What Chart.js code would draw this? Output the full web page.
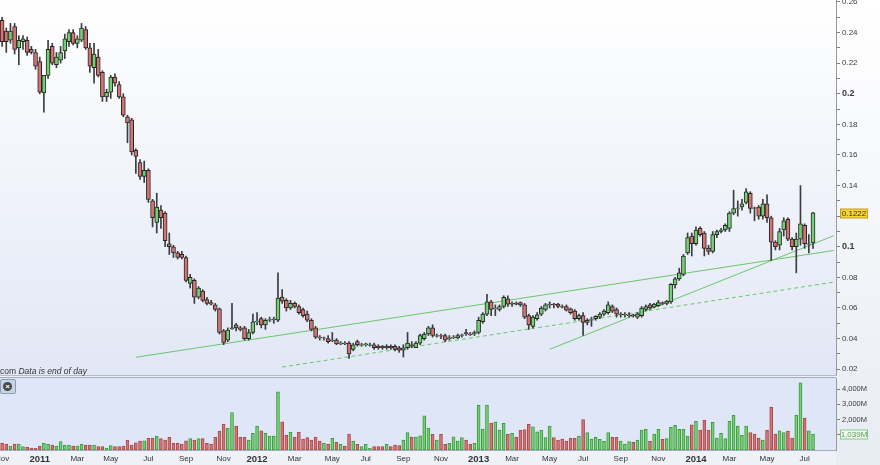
<!DOCTYPE html>
<html>
<head>
<meta charset="utf-8">
<script src="https://cdn.jsdelivr.net/npm/chart.js@4.4.1/dist/chart.umd.min.js"></script>
<style>
  html, body { margin: 0; padding: 0; }
  body { width: 880px; height: 465px; position: relative; overflow: hidden; background: #eef1f7;
         font-family: "Liberation Sans", Arial, sans-serif; }
  #priceBg { position: absolute; left: 0; top: 0; width: 836px; height: 375px; background: linear-gradient(#ffffff, #e1e7f5); }
  #axisBg { position: absolute; left: 836px; top: 0; width: 44px; height: 465px; background: linear-gradient(#ffffff, #e8ecf3); }
  #sep { position: absolute; left: 0; top: 375px; width: 837px; height: 1px; background: #b4bccb; }
  #volBg { position: absolute; left: 0; top: 377px; width: 836px; height: 72px; background: #dee6f7;
           border-top: 1px solid #a3acba; border-bottom: 1px solid #a3acba; }
  canvas { position: absolute; left: 0; }
  #price { top: 0; }
  #volume { top: 376px; }
  #note { position: absolute; left: 0; top: 366px; font-size: 8.5px; color: #333; white-space: nowrap; }
  #close { position: absolute; left: 0; top: 379px; width: 14px; height: 13px; background: #c7d4e7;
           border: 1px solid #8d9bb0; border-radius: 2px; }
  #close span { position: absolute; left: 2px; top: 2px; width: 9px; height: 9px; border-radius: 50%;
                background: #474747; color: #fff; font-size: 8px; line-height: 9px; text-align: center; font-weight: bold; }
</style>
</head>
<body>
<div id="priceBg"></div>
<div id="axisBg"></div>
<div id="sep"></div>
<div id="volBg"></div>
<canvas id="price" width="880" height="375"></canvas>
<canvas id="volume" width="880" height="89"></canvas>
<div id="note">com <i>Data is end of day</i></div>
<div id="close"><span>×</span></div>
<script>
// weekly candles, first week starts Mon 1 Nov 2010 (5 empty weeks kept on the right)
const firstWeek = Date.UTC(2010, 10, 1);
const weekCount = 200;
const weeks = [];
for (let i = 0; i < weekCount; i++) {
  weeks.push(new Date(firstWeek + i * 7 * 864e5).toISOString().slice(0, 10));
}
const monthNames = ['Jan', 'Feb', 'Mar', 'Apr', 'May', 'Jun', 'Jul', 'Aug', 'Sep', 'Oct', 'Nov', 'Dec'];

const open = [
  .248,.241,.235,.244,.230,.234,.235,.229,.227,.221,
  .2005,.212,.231,.219,.222,.228,.234,.240,.233,.235,
  .242,.230,.217,.224,.214,.198,.201,.211,.206,.198,
  .185,.183,.163,.155,.146,.150,.130,.116,.124,.122,
  .102,.100,.096,.095,.093,.076,.078,.067,.071,.0655,
  .0635,.062,.0595,.045,.039,.0465,.049,.047,.047,.040,
  .044,.051,.053,.049,.052,.0522,.052,.0672,.065,.060,
  .063,.061,.059,.056,.052,.047,.041,.0402,.040,.0385,
  .039,.0365,.037,.037,.033,.038,.0355,.036,.0355,.036,
  .035,.035,.034,.035,.035,.034,.0325,.034,.036,.034,
  .037,.040,.043,.047,.0415,.042,.042,.040,.0405,.0405,
  .042,.044,.043,.043,.044,.051,.056,.064,.0595,.059,
  .061,.066,.0625,.063,.0635,.062,.055,.048,.053,.056,
  .059,.062,.0625,.0625,.061,.061,.0595,.058,.053,.055,
  .0505,.052,.053,.054,.056,.057,.061,.059,.0555,.0555,
  .055,.0555,.054,.055,.059,.062,.0605,.0615,.0635,.063,
  .064,.075,.079,.082,.096,.107,.102,.112,.109,.099,
  .097,.108,.110,.111,.112,.122,.125,.126,.129,.135,
  .1255,.126,.120,.128,.119,.103,.101,.111,.118,.105,
  .100,.105,.114,.1015,.1025
];
const high = [
  .250,.243,.246,.246,.238,.238,.237,.231,.229,.224,
  .212,.235,.233,.227,.231,.239,.242,.242,.238,.246,
  .244,.233,.233,.229,.215,.203,.212,.213,.208,.200,
  .186,.184,.164,.157,.156,.151,.131,.135,.127,.123,
  .109,.101,.097,.097,.094,.082,.079,.074,.072,.067,
  .065,.063,.060,.046,.047,.063,.050,.048,.048,.046,
  .056,.057,.054,.053,.054,.054,.083,.072,.066,.065,
  .064,.062,.060,.058,.053,.048,.042,.041,.042,.044,
  .040,.038,.038,.038,.037,.039,.037,.037,.037,.037,
  .036,.0355,.036,.036,.036,.035,.036,.044,.038,.038,
  .043,.044,.048,.049,.043,.043,.043,.042,.042,.043,
  .043,.046,.044,.045,.054,.057,.069,.065,.062,.062,
  .068,.068,.064,.064,.064,.063,.056,.055,.057,.061,
  .063,.064,.063,.063,.062,.062,.060,.059,.056,.057,
  .053,.054,.055,.057,.059,.064,.062,.060,.057,.057,
  .057,.056,.057,.061,.062,.063,.063,.065,.064,.065,
  .076,.080,.086,.095,.109,.109,.113,.113,.110,.101,
  .110,.111,.112,.115,.123,.137,.130,.131,.138,.136,
  .126,.127,.131,.134,.120,.104,.112,.119,.119,.106,
  .109,.140,.115,.108,.1225
];
const low = [
  .231,.227,.233,.226,.219,.229,.225,.226,.216,.200,
  .188,.210,.219,.217,.220,.223,.231,.232,.230,.234,
  .229,.214,.207,.211,.195,.195,.197,.205,.197,.185,
  .168,.160,.148,.144,.142,.129,.113,.109,.112,.100,
  .095,.093,.092,.092,.077,.073,.063,.066,.064,.062,
  .062,.058,.043,.036,.038,.046,.045,.045,.039,.039,
  .043,.049,.047,.046,.051,.050,.051,.063,.058,.059,
  .060,.056,.054,.051,.045,.040,.039,.039,.037,.038,
  .036,.036,.036,.027,.032,.035,.035,.035,.035,.033,
  .033,.033,.033,.033,.032,.031,.028,.033,.034,.034,
  .036,.039,.042,.041,.041,.040,.038,.039,.040,.040,
  .041,.042,.042,.042,.043,.050,.055,.055,.055,.058,
  .060,.061,.061,.062,.061,.053,.046,.047,.052,.055,
  .058,.060,.060,.060,.060,.058,.056,.052,.052,.042,
  .049,.048,.052,.053,.055,.056,.057,.054,.054,.054,
  .054,.054,.053,.054,.058,.059,.060,.061,.062,.062,
  .063,.073,.078,.081,.095,.094,.101,.107,.094,.095,
  .096,.106,.109,.110,.110,.121,.120,.124,.128,.122,
  .117,.118,.118,.116,.091,.098,.098,.107,.104,.098,
  .083,.101,.099,.096,.099
];
const close = [
  .234,.234,.241,.229,.235,.236,.227,.227,.218,.201,
  .212,.229,.220,.224,.227,.236,.240,.233,.236,.243,
  .230,.218,.226,.212,.198,.201,.211,.207,.198,.186,
  .181,.162,.159,.146,.150,.131,.119,.126,.119,.104,
  .100,.096,.093,.093,.078,.080,.067,.073,.065,.063,
  .0625,.059,.044,.0375,.0455,.047,.047,.046,.040,.044,
  .051,.0515,.049,.052,.0525,.0528,.0665,.0645,.060,.063,
  .061,.057,.055,.052,.046,.041,.0405,.0405,.038,.039,
  .0365,.037,.0365,.030,.036,.036,.036,.0365,.036,.034,
  .034,.034,.035,.034,.033,.0325,.034,.037,.035,.037,
  .042,.043,.047,.042,.042,.0415,.039,.0405,.041,.042,
  .0425,.043,.0425,.044,.052,.056,.064,.059,.060,.061,
  .067,.0625,.063,.0625,.062,.054,.049,.054,.0555,.060,
  .062,.0625,.062,.061,.0605,.0585,.057,.053,.055,.0505,
  .052,.0525,.0545,.056,.058,.062,.058,.056,.056,.056,
  .0555,.055,.056,.060,.061,.060,.0625,.0635,.063,.0645,
  .0755,.079,.083,.094,.106,.102,.111,.108,.099,.097,
  .108,.110,.111,.114,.122,.125,.1255,.128,.136,.125,
  .125,.120,.128,.119,.103,.100,.110,.117,.105,.100,
  .105,.115,.102,.102,.1222
];
// volume in millions
const volume = [
  440,395,260,395,395,220,175,130,110,260,
  440,370,330,260,550,330,330,260,260,370,
  330,330,330,220,220,110,285,220,220,260,
  660,330,480,590,610,770,790,920,745,660,
  830,440,440,395,610,745,660,745,745,440,
  395,830,1250,1710,1420,2470,1580,830,830,660,
  1100,1580,1270,1100,920,920,3830,1860,985,1160,
  855,1160,720,810,660,855,590,440,395,765,
  500,370,240,1050,590,370,220,370,110,220,
  220,220,370,220,330,285,660,1140,855,855,
  940,2250,1420,1030,660,1030,370,440,875,590,
  810,660,370,440,2960,1380,2960,1750,1860,1310,
  1750,1030,1100,855,1290,1340,1690,1530,1200,1290,
  810,1580,810,660,720,590,765,765,920,2010,
  1140,700,830,700,570,1140,830,830,590,395,
  550,500,660,1310,1360,570,1050,1360,700,745,
  1490,1620,1360,1360,920,1660,1880,1310,1970,1310,
  1820,790,1100,745,1880,2300,1580,960,1580,1140,
  1050,790,660,1290,2820,1050,1270,1140,1250,790,
  2300,4420,2100,1270,1039
];
const volumeTicks = [1000, 2000, 3000, 4000];

// trend lines drawn on the chart: [week, price]
const trendUpper = [['2011-06-13', 0.0278], ['2014-08-25', 0.0976]];
const trendSteep = [['2013-05-06', 0.0330], ['2014-08-25', 0.1073]];
const trendDashed = [['2012-02-13', 0.0214], ['2014-08-25', 0.0769]];

const FONT = '"Liberation Sans", Arial, sans-serif';
const upFill = '#72cf72', downFill = '#d27474';
const isUp = open.map((o, i) => close[i] >= o);

function tickText(i) {
  const d = new Date(weeks[i] + 'T00:00:00Z');
  if (d.getUTCDate() > 7 || d.getUTCMonth() % 2) return '';
  return d.getUTCMonth() === 0 ? String(d.getUTCFullYear()) : monthNames[d.getUTCMonth()];
}

function trend(points, dashed) {
  return {
    type: 'line',
    data: points.map(p => ({ x: p[0], y: p[1] })),
    borderColor: '#6cc56c',
    borderWidth: 1,
    borderDash: dashed ? [4, 3] : [],
    pointRadius: 0,
    order: 3
  };
}

// label box on the right axis for the last value
function lastValueBox(text, value, fill, stroke, color) {
  return {
    id: 'lastValue',
    afterDraw(chart) {
      const ctx = chart.ctx;
      const y = Math.round(chart.scales.y.getPixelForValue(value)) + 0.5;
      ctx.save();
      ctx.fillStyle = fill;
      ctx.strokeStyle = stroke;
      ctx.fillRect(840.5, y - 4.5, 27, 9);
      ctx.strokeRect(840.5, y - 4.5, 27, 9);
      ctx.fillStyle = color;
      ctx.font = '8px ' + FONT;
      ctx.textAlign = 'center';
      ctx.textBaseline = 'middle';
      ctx.fillText(text, 854, y + 0.5);
      ctx.restore();
    }
  };
}

const last = close.length - 1;

new Chart(document.getElementById('price'), {
  type: 'bar',
  data: {
    labels: weeks,
    datasets: [
      trend(trendUpper, false),
      trend(trendSteep, false),
      trend(trendDashed, true),
      {
        label: 'wick',
        data: low.map((l, i) => [l, high[i]]),
        backgroundColor: '#3c3c3c',
        barThickness: 1,
        grouped: false,
        order: 2
      },
      {
        label: 'body',
        data: open.map((o, i) => [o, close[i]]),
        backgroundColor: isUp.map(u => u ? upFill : downFill),
        borderColor: '#262626',
        borderWidth: 1,
        borderSkipped: false,
        barThickness: 4,
        grouped: false,
        order: 1
      }
    ]
  },
  options: {
    responsive: false,
    animation: false,
    layout: { padding: 0 },
    plugins: { legend: { display: false }, tooltip: { enabled: false } },
    scales: {
      x: { display: false, offset: true },
      y: {
        position: 'right',
        min: 0.0162,
        max: 0.2613,
        afterFit: s => { s.width = 44; s.paddingTop = 0; s.paddingBottom = 0; },
        border: { color: '#9a9a9a' },
        grid: { drawOnChartArea: false, tickLength: 4, color: '#808080' },
        ticks: {
          stepSize: 0.01,
          includeBounds: false,
          autoSkip: false,
          padding: 2,
          color: '#3a3a3a',
          font: ctx => {
            const c = ctx.tick ? Math.round(ctx.tick.value * 100) : 0;
            return (c === 10 || c === 20) ? { family: FONT, size: 9, weight: 'bold' } : { family: FONT, size: 8 };
          },
          callback: v => {
            const c = Math.round(v * 100);
            return c % 2 === 0 ? String(c / 100) : '';
          }
        }
      }
    }
  },
  plugins: [lastValueBox(close[last].toFixed(4), close[last], '#f5d33e', '#c59d18', '#3a3000')]
});

new Chart(document.getElementById('volume'), {
  type: 'bar',
  data: {
    labels: weeks,
    datasets: [{
      label: 'volume',
      data: volume,
      backgroundColor: isUp.map(u => u ? '#74d074' : '#d57474'),
      borderColor: isUp.map(u => u ? '#3e9a3e' : '#a84a4a'),
      borderWidth: 1,
      borderSkipped: false,
      barThickness: 3
    }]
  },
  options: {
    responsive: false,
    animation: false,
    layout: { padding: { top: 2 } },
    plugins: { legend: { display: false }, tooltip: { enabled: false } },
    scales: {
      x: {
        offset: true,
        grid: { display: false, drawTicks: false },
        border: { display: false },
        afterBuildTicks: s => { s.ticks = s.ticks.filter(t => tickText(t.value) !== ''); },
        afterFit: s => { s.height = 15; s.paddingLeft = 0; s.paddingRight = 0; },
        ticks: {
          autoSkip: false,
          maxRotation: 0,
          padding: 4,
          color: '#333',
          font: ctx => (ctx.tick && /^\d{4}$/.test(ctx.tick.label)) ? { family: FONT, size: 9.5, weight: 'bold' } : { family: FONT, size: 8 },
          callback: v => tickText(v)
        }
      },
      y: {
        position: 'right',
        min: 0,
        max: 4740,
        afterBuildTicks: s => { s.ticks = volumeTicks.map(v => ({ value: v })); },
        afterFit: s => { s.width = 44; s.paddingTop = 0; s.paddingBottom = 0; },
        border: { color: '#9a9a9a' },
        grid: { drawOnChartArea: false, tickLength: 4, color: '#808080' },
        ticks: {
          autoSkip: false,
          padding: 2,
          color: '#3a3a3a',
          font: { family: FONT, size: 7.5 },
          callback: v => v.toLocaleString('en-US') + 'M'
        }
      }
    }
  },
  plugins: [lastValueBox(volume[last].toLocaleString('en-US') + 'M', volume[last], '#f1faf1', '#86c886', '#5a9a5a')]
});
</script>
</body>
</html>
